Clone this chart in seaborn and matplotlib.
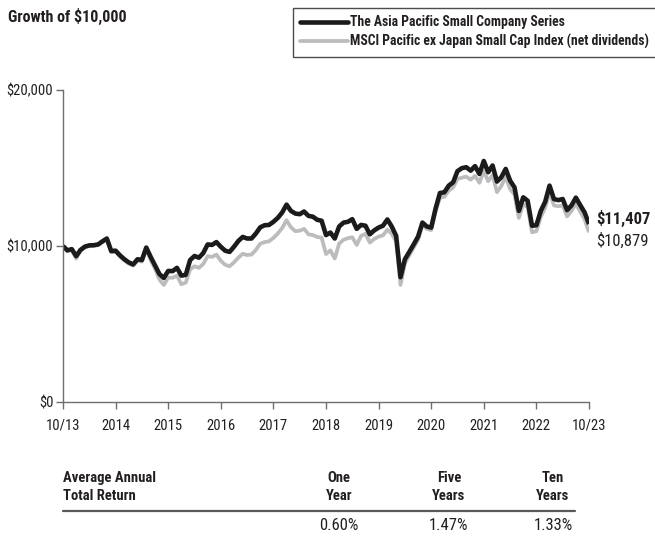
import numpy as np
import pandas as pd
import seaborn as sns
import matplotlib.pyplot as plt
from matplotlib.lines import Line2D
from matplotlib.ticker import FuncFormatter

# growth of $10,000, monthly values 10/13 .. 10/23
fund = [10000, 9720, 9800, 9350, 9750, 9960, 10040, 10050, 10100, 10300,
        10480, 9680, 9700, 9400, 9150, 8950, 8820, 9150, 9100, 9900,
        9300, 8750, 8200, 7950, 8400, 8390, 8600, 8100, 8150, 9100,
        9360, 9250, 9550, 10100, 10070, 10250, 9950, 9700, 9620, 9950,
        10320, 10580, 10480, 10480, 10800, 11200, 11330, 11350, 11550, 11800,
        12150, 12650, 12250, 12080, 12040, 12210, 11930, 11880, 11680, 11620,
        10700, 10860, 10480, 11250, 11500, 11550, 11720, 11100, 11350, 11300,
        10750, 11000, 11180, 11300, 11700, 11250, 10650, 8000, 9150, 9620,
        10100, 10600, 11500, 11250, 11180, 12400, 13400, 13440, 13870, 14080,
        14800, 14990, 15050, 14830, 15120, 14620, 15450, 14730, 15160, 14130,
        14410, 14940, 14190, 13760, 12250, 13120, 12900, 11300, 11330, 12250,
        12830, 13870, 13010, 12940, 13010, 12300, 12600, 13100, 12620, 12150,
        11407]
index = [10000, 9680, 9750, 9200, 9700, 9920, 10000, 10020, 10050, 10250,
         10420, 9600, 9620, 9330, 9070, 8870, 8740, 9060, 9000, 9780,
         9100, 8550, 7850, 7500, 7980, 7960, 8100, 7550, 7650, 8500,
         8700, 8600, 8850, 9350, 9300, 9450, 9050, 8800, 8700, 8950,
         9250, 9500, 9420, 9450, 9750, 10150, 10250, 10300, 10520, 10800,
         11150, 11650, 11200, 10950, 10980, 11100, 10750, 10700, 10580, 10540,
         9480, 9720, 9200, 10150, 10400, 10500, 10560, 10070, 10650, 10780,
         10220, 10450, 10600, 10680, 11050, 10780, 10300, 7500, 8900, 9400,
         9900, 10380, 11350, 11100, 11020, 12200, 13100, 13150, 13550, 13750,
         14300, 14380, 14450, 14250, 14500, 14050, 14800, 14150, 14550, 13450,
         13850, 14450, 13650, 13300, 11800, 12700, 12500, 10880, 10950, 11850,
         12450, 13450, 12600, 12550, 12600, 11900, 12250, 12700, 12200, 11700,
         10879]
months = list(range(len(fund)))

tick_labels = ["10/13", "2014", "2015", "2016", "2017", "2018", "2019",
               "2020", "2021", "2022", "10/23"]
series_names = ["The Asia Pacific Small Company Series",
                "MSCI Pacific ex Japan Small Cap Index (net dividends)"]
end_labels = ["$11,407", "$10,879"]

periods = ["One\nYear", "Five\nYears", "Ten\nYears"]
returns = ["0.60%", "1.47%", "1.33%"]

df = pd.DataFrame({"month": months, "fund": fund, "index": index})

sns.set_style("white")
# condensed face, like the original print font
plt.rcParams['font.family'] = ['Roboto Condensed', 'Barlow Condensed',
                               'Archivo Narrow', 'DejaVu Sans']
txt = "#231f20"
black = "#1c1a1b"
grey = "#bbbcbe"

fig = plt.figure(figsize=(6.55, 5.38), dpi=100)
ax = fig.add_axes([63/655, 1-402/538, 526/655, 312/538])

sns.lineplot(data=df, x="month", y="index", ax=ax, color=grey, lw=2.7,
             solid_capstyle="butt")
sns.lineplot(data=df, x="month", y="fund", ax=ax, color=black, lw=3.3,
             solid_capstyle="butt")

ax.set_xlim(0, 120)
ax.set_ylim(0, 20000)
ax.set_xticks(range(0, 121, 12))
ax.set_xticklabels(tick_labels)
ax.set_yticks([0, 10000, 20000])
ax.yaxis.set_major_formatter(FuncFormatter(lambda v, p: "${:,.0f}".format(v)))
ax.set_xlabel("")
ax.set_ylabel("")
for s in ["top", "right"]:
    ax.spines[s].set_visible(False)
for s in ["left", "bottom"]:
    ax.spines[s].set_color("#6d6e71")
    ax.spines[s].set_linewidth(1)
ax.tick_params(axis="both", direction="out", length=5, width=1, color="#6d6e71",
               labelsize=10.5, labelcolor=txt, left=True, bottom=True)
ax.tick_params(axis="x", pad=7)
ax.tick_params(axis="y", pad=2)

# end value labels
ax.text(121.6, fund[-1] + 330, end_labels[0], fontsize=12, fontweight="bold",
        color=txt, va="center", ha="left", clip_on=False)
ax.text(121.6, index[-1] - 550, end_labels[1], fontsize=12, color=txt,
        va="center", ha="left", clip_on=False)

# title
fig.text(8/655, 1-16/538, "Growth of $10,000", fontsize=11.5, fontweight="bold",
         color=txt, va="center", ha="left")

# legend
handles = [Line2D([], [], color=black, lw=3.3),
           Line2D([], [], color=grey, lw=2.7)]
leg = fig.legend(handles, series_names, loc="upper left",
                 bbox_to_anchor=(293/655, 1-8/538), frameon=True, fancybox=False,
                 edgecolor="#231f20", handlelength=3.5, handletextpad=0.15,
                 borderpad=0.55, labelspacing=0.35, borderaxespad=0,
                 prop={"size": 9.8, "weight": "bold"})
leg.get_frame().set_linewidth(1)
for t in leg.get_texts():
    t.set_color(txt)

# return table
fig.text(63/655, 1-487/538, "Average Annual\nTotal Return", fontsize=10.5,
         fontweight="bold", color=txt, va="center", ha="left", linespacing=1.3)
col_x = [339, 449, 553]
for x, p, r in zip(col_x, periods, returns):
    fig.text(x/655, 1-487/538, p, fontsize=10.5, fontweight="bold", color=txt,
             va="center", ha="center", linespacing=1.3)
    fig.text(x/655, 1-525/538, r, fontsize=12, color=txt, va="center", ha="center")
fig.add_artist(Line2D([63/655, 575/655], [1-511/538, 1-511/538],
                      transform=fig.transFigure, color="#58595b", lw=1.6))

fig.savefig("out.png", dpi=100)
